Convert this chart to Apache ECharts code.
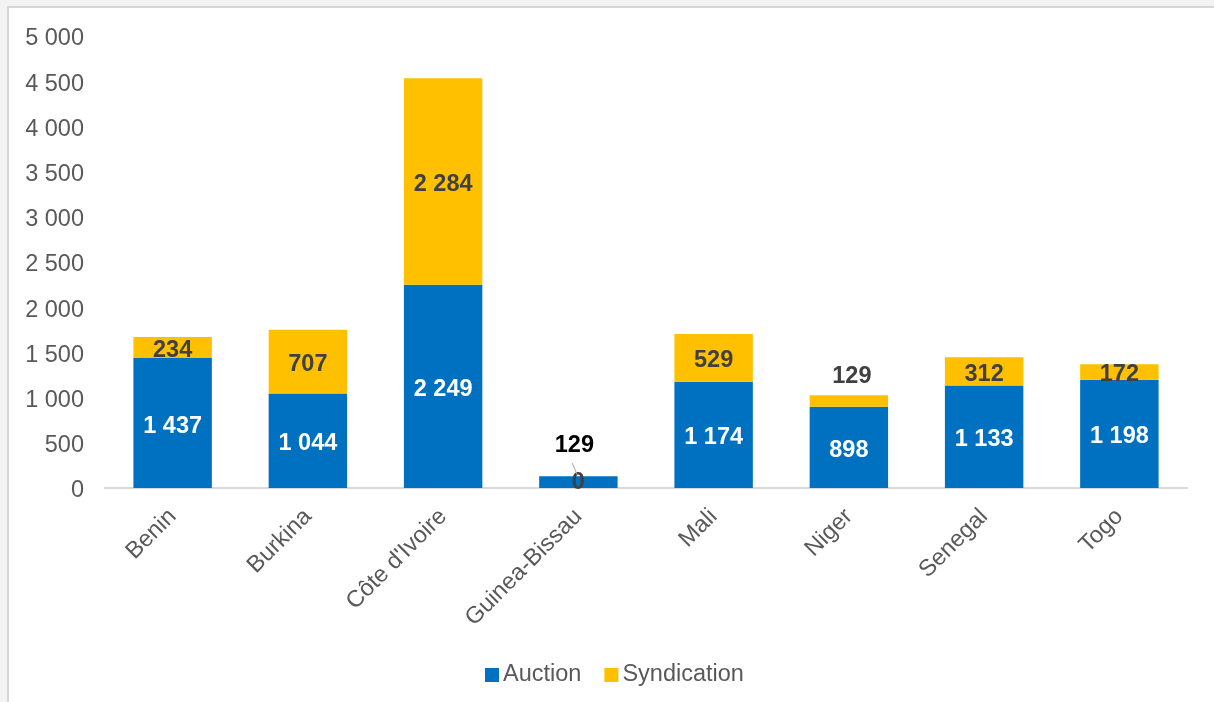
<!DOCTYPE html>
<html>
<head>
<meta charset="utf-8">
<script src="https://cdn.jsdelivr.net/npm/echarts@6/dist/echarts.min.js"></script>
<style>
  html, body { margin: 0; padding: 0; background: #f3f3f3; }
  #frame { position: absolute; left: 7px; top: 6px; width: 1207px; height: 696px; background: #ffffff; border-left: 2px solid #d6d6d6; border-top: 2px solid #d6d6d6; box-sizing: border-box; }
  #chart { position: absolute; left: 0; top: 0; width: 1214px; height: 702px; }
</style>
</head>
<body>
<div id="frame"></div>
<div id="chart"></div>
<script>
const categories = ["Benin", "Burkina", "Côte d'Ivoire", "Guinea-Bissau", "Mali", "Niger", "Senegal", "Togo"];
const auction = [1437, 1044, 2249, 129, 1174, 898, 1133, 1198];
const syndication = [234, 707, 2284, 0, 529, 129, 312, 172];
const yTicks = [0, 500, 1000, 1500, 2000, 2500, 3000, 3500, 4000, 4500, 5000];

function fmt(v) {
  return String(Math.round(v)).replace(/\B(?=(\d{3})+(?!\d))/g, ' ');
}

const FONT = 'Liberation Sans, Arial, sans-serif';

const auctionData = auction.map((v, i) => {
  if (i === 3) {
    return {
      value: v,
      label: { position: 'top', distance: 22, offset: [-4, 3], color: '#000000' }
    };
  }
  return v;
});
const syndData = syndication.map((v, i) => {
  if (i === 5) {
    return { value: v, label: { position: 'top', distance: 8, offset: [3, 1], color: '#404040' } };
  }
  if (i === 3) {
    return { value: v, label: { position: 'inside', offset: [0, 6] } };
  }
  return v;
});

const chart = echarts.init(document.getElementById('chart'), null, { renderer: 'canvas' });
chart.setOption({
  backgroundColor: 'transparent',
  animation: false,
  textStyle: { fontFamily: FONT },
  grid: { left: 105, right: 27, top: 36, bottom: 214, containLabel: false },
  legend: {
    data: ['Auction', 'Syndication'],
    left: 480,
    top: 658,
    icon: 'rect',
    itemWidth: 14,
    itemHeight: 14,
    itemGap: 23,
    textStyle: { fontSize: 23.5, color: '#595959', fontFamily: FONT, padding: [0, 0, 0, -1] }
  },
  xAxis: {
    type: 'category',
    data: categories,
    axisLine: { show: true, lineStyle: { color: '#d9d9d9', width: 2 } },
    axisTick: { show: false },
    axisLabel: { rotate: 45, margin: 25, fontSize: 23.5, color: '#595959', fontFamily: FONT, interval: 0 }
  },
  yAxis: {
    type: 'value',
    min: yTicks[0],
    max: yTicks[yTicks.length - 1],
    interval: 500,
    axisLine: { show: false },
    axisTick: { show: false },
    splitLine: { show: false },
    axisLabel: {
      margin: 21, fontSize: 23.5, color: '#595959', fontFamily: FONT,
      formatter: v => '{a|' + fmt(v) + '}',
      rich: { a: { fontSize: 23.5, color: '#595959', fontFamily: FONT, padding: [6, 0, 0, 0] } }
    }
  },
  series: [
    {
      name: 'Auction',
      type: 'bar',
      stack: 'total',
      barWidth: '58%',
      data: auctionData,
      itemStyle: { color: '#0070C0' },
      label: {
        show: true,
        position: 'inside',
        offset: [0, 3],
        color: '#ffffff',
        fontSize: 23.5,
        fontWeight: 'bold',
        fontFamily: FONT,
        formatter: p => fmt(p.value)
      }
    },
    {
      name: 'Syndication',
      type: 'bar',
      stack: 'total',
      barWidth: '58%',
      data: syndData,
      itemStyle: { color: '#FFC000' },
      label: {
        show: true,
        position: 'inside',
        offset: [0, 3],
        color: '#404040',
        fontSize: 23.5,
        fontWeight: 'bold',
        fontFamily: FONT,
        formatter: p => fmt(p.value)
      }
    }
  ]
});

// leader line for Guinea-Bissau auction label, placed via the chart's own scale
const p1 = chart.convertToPixel({ seriesIndex: 0 }, [3, auction[3]]);
chart.setOption({
  graphic: [{
    type: 'line',
    shape: { x1: p1[0] - 6, y1: p1[1] - 13, x2: p1[0] - 1, y2: p1[1] - 1 },
    style: { stroke: '#a6a6a6', lineWidth: 1 },
    z: 10
  }]
});
</script>
</body>
</html>
